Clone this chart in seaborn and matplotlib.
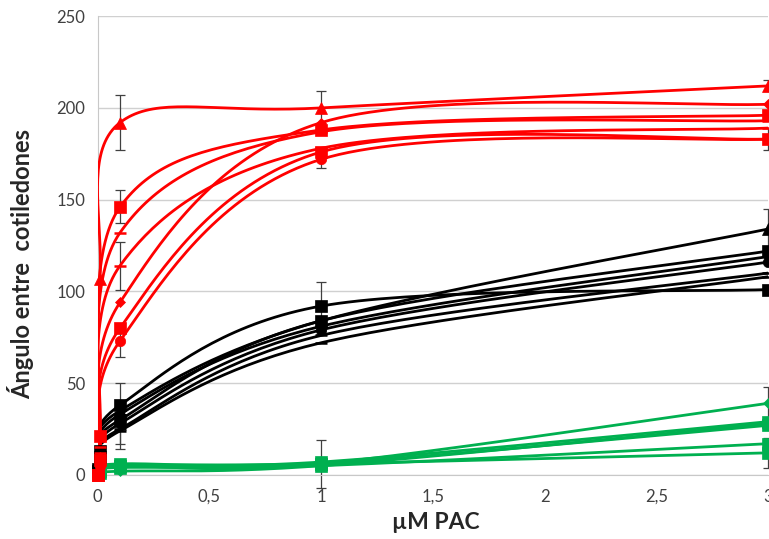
import numpy as np
import pandas as pd
import matplotlib
matplotlib.use("Agg")
import matplotlib.pyplot as plt
import seaborn as sns

# concentration of PAC (µM)
conc = [0, 0.01, 0.1, 1, 3]

# red group
red_vals = [
    [0, 107, 192, 200, 212],
    [0, 21, 146, 188, 196],
    [0, 15, 132, 187, 193],
    [0, 12, 114, 178, 189],
    [0, 10, 94, 192, 202],
    [0, 8, 80, 176, 183],
    [0, 5, 73, 172, 183],
]
red_markers = ["^", "s", "_", "_", "D", "s", "o"]
red_err = [
    [0, 0, 15, 9, 3],
    [0, 0, 9, 0, 0],
    [0, 0, 0, 0, 0],
    [0, 0, 13, 0, 0],
    [0, 0, 0, 0, 0],
    [0, 0, 0, 0, 0],
    [0, 0, 9, 5, 6],
]

# black group
black_vals = [
    [3, 12, 35, 84, 134],
    [2, 10, 38, 92, 101],
    [3, 13, 30, 84, 122],
    [2, 8, 33, 81, 119],
    [2, 9, 28, 79, 116],
    [3, 11, 25, 76, 110],
    [2, 7, 24, 72, 108],
]
black_markers = ["^", "s", "s", "D", "o", "_", "_"]
black_err = [
    [0, 0, 0, 0, 11],
    [0, 0, 12, 13, 0],
    [0, 0, 0, 0, 0],
    [0, 0, 0, 4, 0],
    [0, 0, 0, 0, 0],
    [0, 0, 8, 0, 0],
    [0, 0, 10, 0, 0],
]

# green group
green_vals = [
    [2, 3, 5, 6, 39],
    [2, 3, 6, 7, 29],
    [1, 2, 5, 6, 27],
    [1, 2, 4, 5, 17],
    [1, 1, 5, 6, 12],
    [1, 1, 2, 5, 28],
]
green_markers = ["D", "s", "s", "s", "s", "D"]
green_err = [
    [0, 0, 0, 13, 9],
    [0, 0, 0, 0, 0],
    [0, 0, 0, 0, 0],
    [0, 0, 0, 0, 0],
    [0, 0, 0, 0, 8],
    [0, 0, 0, 0, 0],
]

x_ticks = [0, 0.5, 1, 1.5, 2, 2.5, 3]
x_labels = ["0", "0,5", "1", "1,5", "2", "2,5", "3"]
y_ticks = [0, 50, 100, 150, 200, 250]


def smooth(x, y, n=40):
    # Excel style smoothed line (Catmull-Rom as cubic Bezier)
    pts = np.column_stack([x, y]).astype(float)
    P = np.vstack([pts[0], pts, pts[-1]])
    segs = []
    t = np.linspace(0, 1, n)[:, None]
    for i in range(1, len(P) - 2):
        p0, p1, p2, p3 = P[i - 1], P[i], P[i + 1], P[i + 2]
        c1 = p1 + (p2 - p0) / 6
        c2 = p2 - (p3 - p1) / 6
        seg = (1 - t) ** 3 * p1 + 3 * (1 - t) ** 2 * t * c1 + 3 * (1 - t) * t ** 2 * c2 + t ** 3 * p2
        segs.append(seg)
    s = np.vstack(segs)
    return s[:, 0], s[:, 1]


sns.set_style("white")
plt.rcParams["font.family"] = ["Lato", "DejaVu Sans"]

fig = plt.figure(figsize=(7.69, 5.39), dpi=100)
ax = fig.add_axes([0.127, 0.119, 0.872, 0.851])

groups = [
    (green_vals, green_markers, green_err, "#00B050"),
    (black_vals, black_markers, black_err, "#000000"),
    (red_vals, red_markers, red_err, "#FF0000"),
]

for vals, markers, errs, col in groups:
    for v, m, e in zip(vals, markers, errs):
        sx, sy = smooth(conc, v)
        sns.lineplot(x=sx, y=sy, sort=False, estimator=None, color=col,
                     linewidth=2.0, ax=ax, zorder=3)
        e = np.array(e, dtype=float)
        mask = e > 0
        if mask.any():
            ax.errorbar(np.array(conc)[mask], np.array(v)[mask], yerr=e[mask],
                        fmt="none", ecolor="#404040", elinewidth=0.9,
                        capsize=3.5, capthick=0.9, zorder=2, clip_on=False)
        ms = 8.5
        if m == "D":
            ms = 5.5
        elif m == "o":
            ms = 7.5
        elif m == "^":
            ms = 8
        elif m == "_":
            ms = 8
        ax.plot(conc, v, linestyle="none", marker=m, color=col, markersize=ms,
                markeredgewidth=1.8 if m == "_" else 0.5, zorder=4, clip_on=False)

ax.set_xlim(0, 3)
ax.set_ylim(0, 250)
ax.set_xticks(x_ticks)
ax.set_xticklabels(x_labels)
ax.set_yticks(y_ticks)
ax.tick_params(axis="both", length=0, labelsize=12, labelcolor="#404040")
ax.tick_params(axis="x", pad=10)
ax.tick_params(axis="y", pad=9)
ax.grid(axis="y", color="#D0D0D0", linewidth=1)
ax.set_axisbelow(True)
for side in ["top", "right"]:
    ax.spines[side].set_visible(False)
ax.spines["left"].set_color("#C8C8C8")
ax.spines["bottom"].set_color("#C8C8C8")

ax.set_xlabel("µM PAC", fontsize=16.5, fontweight="bold")
ax.set_ylabel("Ángulo entre  cotiledones", fontsize=17, fontweight="bold")
ax.yaxis.set_label_coords(-0.095, 0.46)
ax.xaxis.set_label_coords(0.505, -0.082)

fig.savefig("out.png", dpi=100)
